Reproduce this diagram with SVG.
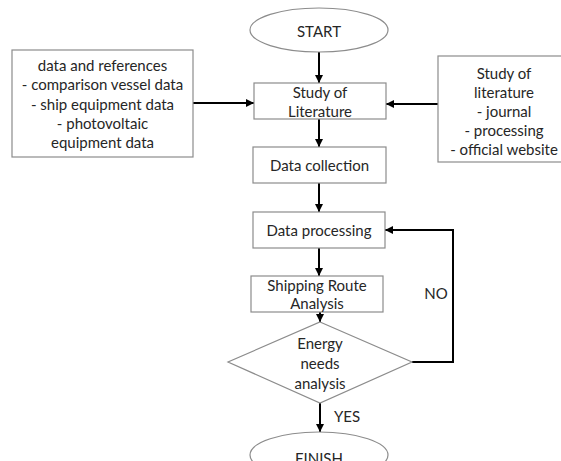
<svg xmlns="http://www.w3.org/2000/svg" width="561" height="461" viewBox="0 0 561 461">
<defs>
<style>
.box{fill:#fff;stroke:#8c8c8c;stroke-width:1.2}
.t{font-family:Lato,"Liberation Sans",sans-serif;font-size:15px;fill:#262626;text-anchor:middle;dominant-baseline:central}
.c{fill:none;stroke:#000;stroke-width:2}
</style>
<marker id="ah" viewBox="0 0 10 10" refX="10" refY="5" markerWidth="4" markerHeight="4" orient="auto" markerUnits="strokeWidth">
<path d="M0,0 L10,5 L0,10 z" fill="#000"/>
</marker>
</defs>
<rect width="561" height="461" fill="#fff"/>
<g id="connectors">
<line class="c" x1="319" y1="52" x2="319" y2="83" marker-end="url(#ah)"/>
<line class="c" x1="193" y1="103" x2="254" y2="103" marker-end="url(#ah)"/>
<line class="c" x1="438" y1="104" x2="386" y2="104" marker-end="url(#ah)"/>
<line class="c" x1="319" y1="119" x2="319" y2="147" marker-end="url(#ah)"/>
<line class="c" x1="319" y1="183" x2="319" y2="212" marker-end="url(#ah)"/>
<line class="c" x1="319" y1="248" x2="319" y2="276" marker-end="url(#ah)"/>
<line class="c" x1="320" y1="312" x2="320" y2="322" marker-end="url(#ah)"/>
<line class="c" x1="320" y1="403" x2="320" y2="432" marker-end="url(#ah)"/>
<path class="c" d="M412,362 H453 V230 H385" marker-end="url(#ah)"/>
<text class="t" x="436" y="293">NO</text>
<text class="t" x="347" y="416">YES</text>
</g>
<g id="start">
<ellipse class="box" cx="319" cy="30" rx="69" ry="22"/>
<text class="t" x="319" y="31">START</text>
</g>
<g id="refs">
<rect class="box" x="12" y="50" width="181" height="107"/>
<text class="t" x="102.5" y="65">data and references</text>
<text class="t" x="102.5" y="84">- comparison vessel data</text>
<text class="t" x="102.5" y="104">- ship equipment data</text>
<text class="t" x="102.5" y="123">- photovoltaic</text>
<text class="t" x="102.5" y="142">equipment data</text>
</g>
<g id="study">
<rect class="box" x="254" y="83" width="132" height="36"/>
<text class="t" x="320" y="92">Study of</text>
<text class="t" x="320" y="111">Literature</text>
</g>
<g id="lit">
<rect class="box" x="438" y="56" width="135" height="106"/>
<text class="t" x="504" y="73">Study of</text>
<text class="t" x="504" y="92">literature</text>
<text class="t" x="504" y="111">- journal</text>
<text class="t" x="504" y="130">- processing</text>
<text class="t" x="504" y="149">- official website</text>
</g>
<g id="collection">
<rect class="box" x="253" y="147" width="133" height="36"/>
<text class="t" x="319.5" y="165">Data collection</text>
</g>
<g id="processing">
<rect class="box" x="253" y="212" width="132" height="36"/>
<text class="t" x="319" y="230">Data processing</text>
</g>
<g id="shipping">
<rect class="box" x="251" y="276" width="132" height="36"/>
<text class="t" x="317" y="285">Shipping Route</text>
<text class="t" x="317" y="303">Analysis</text>
</g>
<g id="energy">
<polygon class="box" points="320,322 412,362 320,403 228,362"/>
<text class="t" x="320" y="343">Energy</text>
<text class="t" x="320" y="363">needs</text>
<text class="t" x="320" y="383">analysis</text>
</g>
<g id="finish">
<ellipse class="box" cx="319" cy="455" rx="69" ry="23"/>
<text class="t" x="319" y="458">FINISH</text>
</g>
</svg>
